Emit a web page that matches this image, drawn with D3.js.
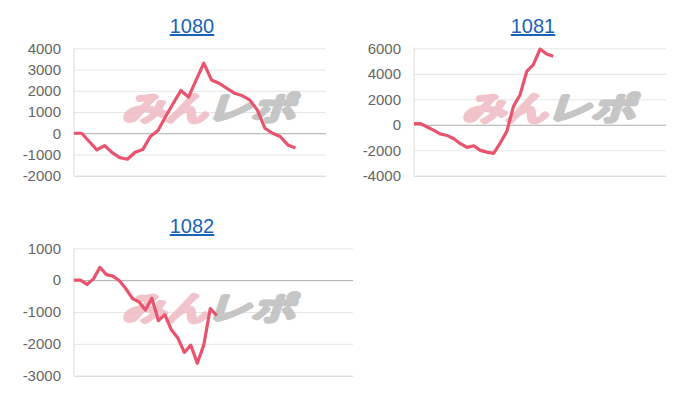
<!DOCTYPE html>
<html>
<head>
<meta charset="utf-8">
<script src="https://cdn.jsdelivr.net/npm/d3@7"></script>
<style>
  body { margin: 0; background: #fff; }
  text { font-family: "Liberation Sans", Arial, sans-serif; }
</style>
</head>
<body>
<div id="chart-area"></div>
<script>
// data
var titles = ['1080', '1081', '1082'];
var slots = [34, 39, 44];   // number of x positions on each chart
var values1080 = [0, 0, -390, -785, -580, -910, -1150, -1225, -895, -770, -155, 125, 785, 1410, 2010,
  1700, 2510, 3300, 2510, 2355, 2120, 1885, 1775, 1570, 1100, 235, 0, -155, -550, -690];
var values1081 = [80, 80, -180, -445, -730, -840, -1100, -1490, -1780, -1650, -2015, -2150, -2250,
  -1440, -520, 1440, 2360, 4190, 4710, 5940, 5550, 5370];
var values1082 = [0, 0, -135, 40, 400, 175, 125, -20, -270, -575, -680, -940, -565, -1270, -1085,
  -1560, -1815, -2270, -2040, -2610, -2040, -890, -1115];
var ticks1080 = [-2000, -1000, 0, 1000, 2000, 3000, 4000];
var ticks1081 = [-4000, -2000, 0, 2000, 4000, 6000];
var ticks1082 = [-3000, -2000, -1000, 0, 1000];

var seriesValues = [values1080, values1081, values1082];
var seriesTicks = [ticks1080, ticks1081, ticks1082];

// panel boxes
var boxes = [
  { left: 74, right: 326, top: 48.3, bottom: 175.7, titleX: 192, titleY: 33 },
  { left: 414, right: 666, top: 48.3, bottom: 175.7, titleX: 533, titleY: 33 },
  { left: 74, right: 353, top: 248.3, bottom: 375.7, titleX: 192, titleY: 233 }
];

var svg = d3.select('#chart-area')
  .append('svg')
  .attr('width', 700)
  .attr('height', 400);

boxes.forEach(function (b, i) {
  var data = seriesValues[i];
  var ticks = seriesTicks[i];

  var xScale = d3.scaleLinear()
    .domain([0, slots[i] - 1])
    .range([b.left, b.right]);

  var yScale = d3.scaleLinear()
    .domain([d3.min(ticks), d3.max(ticks)])
    .range([b.bottom, b.top]);

  var g = svg.append('g');

  // title (link style)
  g.append('text')
    .attr('x', b.titleX)
    .attr('y', b.titleY)
    .attr('text-anchor', 'middle')
    .attr('font-size', '20px')
    .attr('fill', '#1a63b8')
    .style('text-decoration', 'underline')
    .text(titles[i]);

  // y axis with gridlines
  var yAxisCall = d3.axisLeft(yScale)
    .tickValues(ticks)
    .tickSize(-(b.right - b.left))
    .tickPadding(13)
    .tickFormat(function (d) { return d; });

  var yAxis = g.append('g')
    .attr('class', 'y axis')
    .attr('transform', 'translate(' + b.left + ',0)')
    .call(yAxisCall);

  yAxis.select('.domain').remove();
  yAxis.selectAll('.tick line')
    .attr('stroke', function (d) {
      if (d === 0) return '#ababab';
      if (d === d3.min(ticks)) return '#cfcfcf';
      return '#e6e6e6';
    })
    .attr('stroke-width', 1);
  yAxis.selectAll('.tick text')
    .attr('fill', '#666')
    .attr('font-size', '15px')
    .attr('font-family', '"Liberation Sans", Arial, sans-serif');

  // left border line
  g.append('line')
    .attr('x1', b.left).attr('x2', b.left)
    .attr('y1', b.top).attr('y2', b.bottom)
    .attr('stroke', '#dcdcdc');

  // watermark
  var wm = g.append('text')
    .attr('transform', 'translate(' + (b.left + 136) + ',' + (yScale.range()[1] + 70) + ') scale(1.3,1) skewX(-14)')
    .attr('text-anchor', 'middle')
    .attr('font-size', '32px')
    .attr('font-weight', 'bold')
    .attr('font-family', '"Noto Sans CJK JP", sans-serif')
    .attr('stroke-width', 3.5)
    .attr('stroke-linejoin', 'round')
    .attr('opacity', 0.85);
  wm.append('tspan').attr('fill', '#efb9c1').attr('stroke', '#efb9c1').text('みん');
  wm.append('tspan').attr('fill', '#bdbdbd').attr('stroke', '#bdbdbd').text('レポ');

  // series line
  var line = d3.line()
    .x(function (d, j) { return xScale(j); })
    .y(function (d) { return yScale(d); });

  g.append('path')
    .datum(data)
    .attr('d', line)
    .attr('fill', 'none')
    .attr('stroke', '#e8536d')
    .attr('stroke-width', 3.2)
    .attr('stroke-linejoin', 'round')
    .attr('stroke-linecap', 'butt');
});
</script>
</body>
</html>
